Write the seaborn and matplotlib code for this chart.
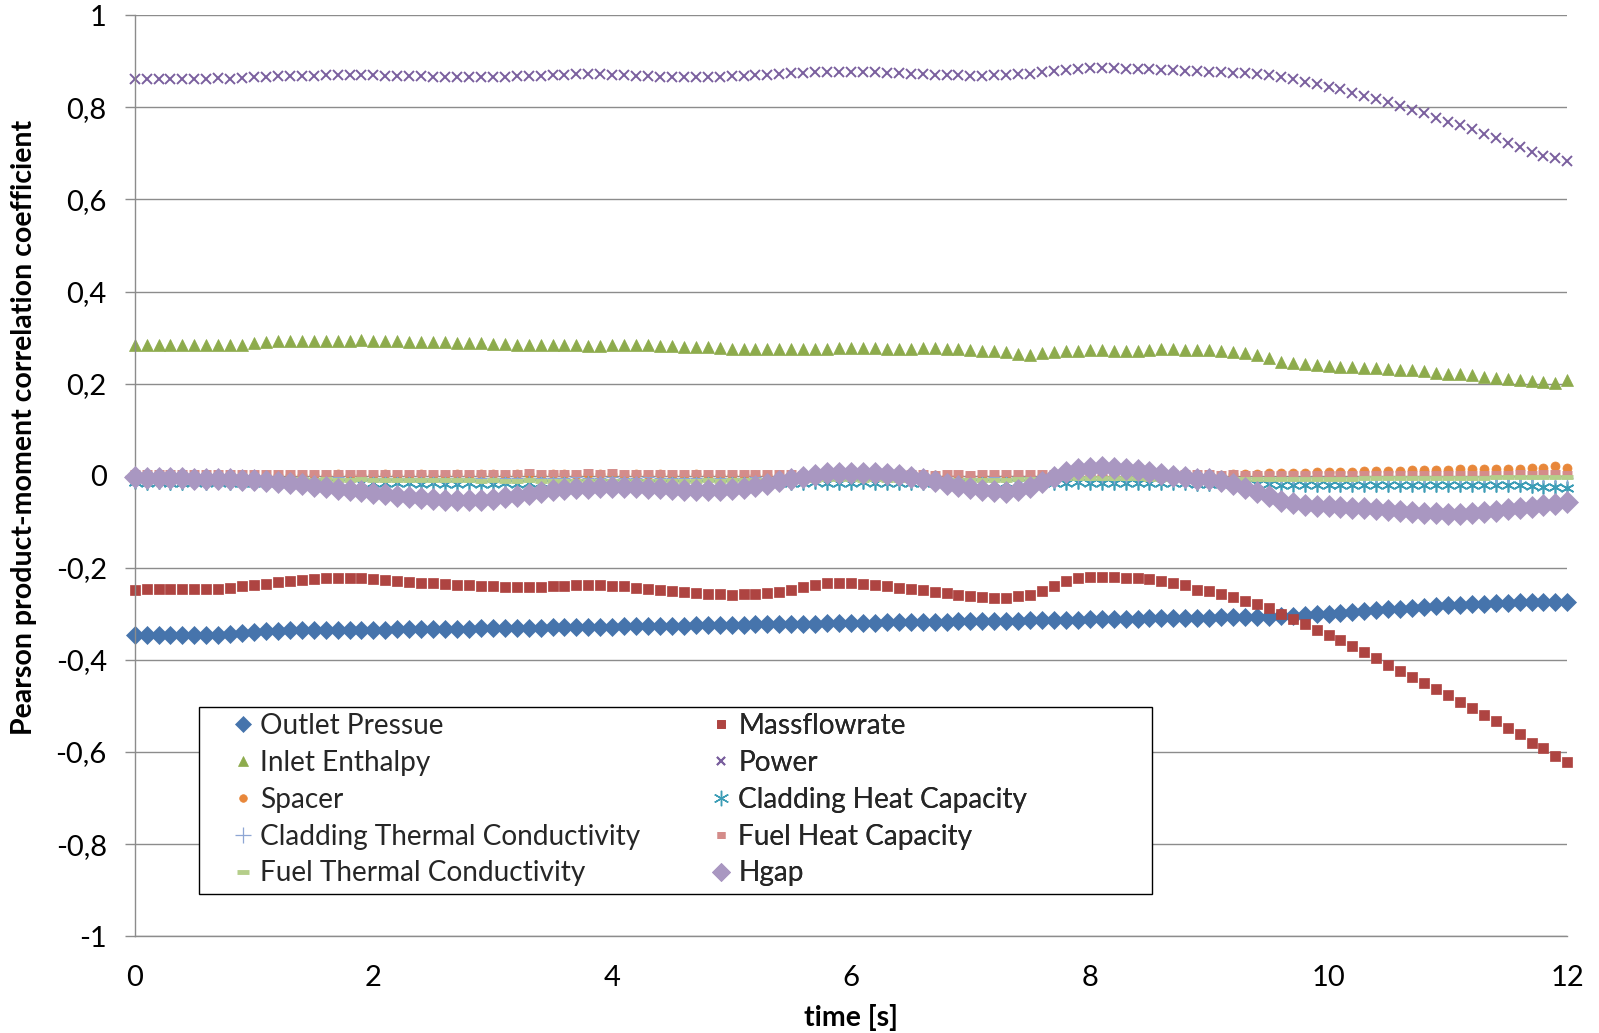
import numpy as np
import pandas as pd
import matplotlib
matplotlib.use("Agg")
import matplotlib.pyplot as plt
from matplotlib.patches import Rectangle
import seaborn as sns

# ---------------- data ----------------
time_s = [round(0.1 * i, 1) for i in range(121)]

outlet_pressure = [
    -0.346, -0.346, -0.346, -0.346, -0.346, -0.345, -0.346, -0.345, -0.343, -0.342,
    -0.340, -0.338, -0.337, -0.336, -0.336, -0.335, -0.335, -0.335, -0.335, -0.334,
    -0.334, -0.334, -0.333, -0.333, -0.333, -0.333, -0.332, -0.332, -0.332, -0.331,
    -0.331, -0.331, -0.330, -0.330, -0.330, -0.329, -0.329, -0.329, -0.328, -0.328,
    -0.328, -0.327, -0.327, -0.327, -0.326, -0.326, -0.326, -0.325, -0.325, -0.324,
    -0.324, -0.324, -0.323, -0.323, -0.322, -0.322, -0.321, -0.321, -0.320, -0.320,
    -0.319, -0.319, -0.319, -0.318, -0.318, -0.318, -0.317, -0.317, -0.317, -0.316,
    -0.316, -0.316, -0.315, -0.315, -0.315, -0.314, -0.314, -0.313, -0.313, -0.313,
    -0.312, -0.312, -0.312, -0.311, -0.311, -0.310, -0.310, -0.309, -0.309, -0.308,
    -0.308, -0.307, -0.307, -0.306, -0.306, -0.306, -0.305, -0.304, -0.303, -0.301,
    -0.300, -0.298, -0.296, -0.294, -0.292, -0.290, -0.289, -0.287, -0.285, -0.283,
    -0.281, -0.280, -0.279, -0.278, -0.277, -0.276, -0.275, -0.275, -0.275, -0.275,
    -0.275]

massflowrate = [
    -0.248, -0.247, -0.247, -0.246, -0.246, -0.246, -0.246, -0.245, -0.243, -0.240,
    -0.238, -0.235, -0.231, -0.228, -0.227, -0.225, -0.222, -0.223, -0.223, -0.223,
    -0.224, -0.226, -0.228, -0.230, -0.232, -0.234, -0.236, -0.237, -0.238, -0.239,
    -0.240, -0.241, -0.241, -0.241, -0.241, -0.240, -0.239, -0.238, -0.238, -0.238,
    -0.239, -0.240, -0.243, -0.246, -0.248, -0.250, -0.252, -0.254, -0.256, -0.257,
    -0.258, -0.257, -0.256, -0.255, -0.252, -0.248, -0.242, -0.237, -0.234, -0.234,
    -0.234, -0.235, -0.237, -0.240, -0.243, -0.246, -0.249, -0.252, -0.255, -0.258,
    -0.262, -0.264, -0.266, -0.265, -0.262, -0.258, -0.250, -0.240, -0.228, -0.221,
    -0.220, -0.220, -0.220, -0.221, -0.222, -0.225, -0.229, -0.234, -0.237, -0.248,
    -0.250, -0.256, -0.264, -0.271, -0.279, -0.288, -0.300, -0.312, -0.323, -0.334,
    -0.345, -0.357, -0.369, -0.382, -0.396, -0.410, -0.424, -0.437, -0.450, -0.463,
    -0.477, -0.491, -0.505, -0.520, -0.533, -0.547, -0.560, -0.580, -0.592, -0.608,
    -0.622]

inlet_enthalpy = [
    0.284, 0.284, 0.285, 0.284, 0.285, 0.285, 0.284, 0.285, 0.285, 0.285,
    0.289, 0.290, 0.292, 0.292, 0.293, 0.293, 0.293, 0.293, 0.293, 0.294,
    0.293, 0.293, 0.292, 0.291, 0.291, 0.290, 0.290, 0.289, 0.288, 0.288,
    0.287, 0.286, 0.285, 0.285, 0.284, 0.284, 0.283, 0.283, 0.282, 0.282,
    0.283, 0.284, 0.284, 0.283, 0.282, 0.281, 0.280, 0.279, 0.279, 0.278,
    0.276, 0.275, 0.275, 0.275, 0.275, 0.275, 0.275, 0.276, 0.276, 0.277,
    0.277, 0.277, 0.277, 0.276, 0.276, 0.276, 0.277, 0.277, 0.276, 0.275,
    0.273, 0.272, 0.270, 0.268, 0.265, 0.263, 0.266, 0.268, 0.270, 0.272,
    0.273, 0.273, 0.272, 0.272, 0.272, 0.274, 0.275, 0.275, 0.274, 0.273,
    0.273, 0.271, 0.269, 0.266, 0.262, 0.255, 0.248, 0.245, 0.243, 0.240,
    0.238, 0.237, 0.236, 0.235, 0.233, 0.232, 0.230, 0.229, 0.227, 0.224,
    0.222, 0.220, 0.218, 0.215, 0.213, 0.210, 0.207, 0.205, 0.203, 0.202,
    0.207]

power = [
    0.862, 0.862, 0.862, 0.861, 0.861, 0.862, 0.862, 0.863, 0.862, 0.863,
    0.866, 0.867, 0.868, 0.868, 0.869, 0.869, 0.870, 0.870, 0.871, 0.871,
    0.870, 0.869, 0.869, 0.868, 0.868, 0.867, 0.867, 0.866, 0.866, 0.866,
    0.866, 0.867, 0.868, 0.868, 0.869, 0.870, 0.871, 0.872, 0.872, 0.873,
    0.871, 0.870, 0.869, 0.868, 0.867, 0.867, 0.867, 0.866, 0.866, 0.867,
    0.868, 0.869, 0.870, 0.871, 0.873, 0.874, 0.875, 0.876, 0.877, 0.877,
    0.877, 0.876, 0.876, 0.875, 0.874, 0.873, 0.872, 0.871, 0.870, 0.870,
    0.869, 0.869, 0.870, 0.871, 0.872, 0.873, 0.876, 0.879, 0.882, 0.884,
    0.885, 0.885, 0.885, 0.884, 0.884, 0.883, 0.882, 0.881, 0.880, 0.879,
    0.876, 0.876, 0.875, 0.874, 0.872, 0.870, 0.866, 0.861, 0.856, 0.851,
    0.845, 0.839, 0.832, 0.825, 0.818, 0.811, 0.803, 0.795, 0.787, 0.778,
    0.769, 0.761, 0.752, 0.742, 0.733, 0.723, 0.714, 0.704, 0.695, 0.690,
    0.684]

spacer = [
    0.001, 0.002, 0.001, 0.002, 0.002, 0.001, 0.002, 0.002, 0.001, 0.002,
    0.002, 0.001, 0.002, 0.002, 0.001, 0.002, 0.002, 0.003, 0.002, 0.002,
    0.002, 0.003, 0.002, 0.002, 0.003, 0.002, 0.002, 0.003, 0.002, 0.003,
    0.003, 0.002, 0.003, 0.003, 0.002, 0.003, 0.003, 0.002, 0.003, 0.003,
    0.003, 0.002, 0.003, 0.002, 0.003, 0.002, 0.002, 0.003, 0.002, 0.002,
    0.002, 0.001, 0.002, 0.001, 0.002, 0.001, 0.001, 0.002, 0.001, 0.001,
    0.001, 0.000, 0.001, 0.000, 0.001, 0.000, 0.000, 0.001, 0.000, 0.000,
    0.000, -0.001, 0.000, -0.001, 0.000, 0.000, 0.001, 0.000, 0.001, 0.000,
    0.001, 0.000, 0.001, 0.001, 0.000, 0.001, 0.001, 0.002, 0.001, 0.002,
    0.002, 0.002, 0.003, 0.003, 0.004, 0.005, 0.006, 0.007, 0.007, 0.008,
    0.008, 0.009, 0.009, 0.010, 0.010, 0.011, 0.011, 0.012, 0.012, 0.013,
    0.013, 0.014, 0.014, 0.014, 0.015, 0.015, 0.015, 0.016, 0.016, 0.022,
    0.016]

cladding_heat_capacity = [
    -0.014, -0.015, -0.014, -0.015, -0.015, -0.014, -0.015, -0.014, -0.015, -0.015,
    -0.015, -0.014, -0.015, -0.015, -0.014, -0.015, -0.015, -0.016, -0.015, -0.016,
    -0.016, -0.015, -0.016, -0.016, -0.017, -0.016, -0.017, -0.017, -0.016, -0.017,
    -0.017, -0.016, -0.017, -0.016, -0.016, -0.017, -0.016, -0.016, -0.015, -0.016,
    -0.016, -0.015, -0.016, -0.016, -0.017, -0.016, -0.017, -0.017, -0.016, -0.017,
    -0.016, -0.016, -0.015, -0.015, -0.016, -0.015, -0.015, -0.014, -0.015, -0.015,
    -0.015, -0.014, -0.015, -0.015, -0.016, -0.015, -0.016, -0.016, -0.015, -0.016,
    -0.016, -0.015, -0.016, -0.016, -0.015, -0.015, -0.014, -0.015, -0.015, -0.014,
    -0.015, -0.015, -0.016, -0.015, -0.016, -0.016, -0.015, -0.016, -0.016, -0.017,
    -0.017, -0.017, -0.018, -0.018, -0.019, -0.019, -0.020, -0.020, -0.020, -0.021,
    -0.020, -0.021, -0.021, -0.020, -0.021, -0.021, -0.020, -0.021, -0.021, -0.020,
    -0.021, -0.021, -0.020, -0.021, -0.021, -0.020, -0.021, -0.022, -0.024, -0.025,
    -0.027]

cladding_thermal_conductivity = [
    -0.004, -0.003, -0.004, -0.003, -0.004, -0.004, -0.003, -0.004, -0.003, -0.004,
    -0.004, -0.003, -0.004, -0.004, -0.003, -0.004, -0.004, -0.003, -0.004, -0.004,
    -0.005, -0.004, -0.005, -0.005, -0.004, -0.005, -0.005, -0.004, -0.005, -0.005,
    -0.004, -0.005, -0.004, -0.004, -0.005, -0.004, -0.004, -0.003, -0.004, -0.004,
    -0.003, -0.004, -0.004, -0.003, -0.004, -0.004, -0.005, -0.004, -0.004, -0.005,
    -0.004, -0.004, -0.003, -0.004, -0.003, -0.003, -0.004, -0.003, -0.003, -0.004,
    -0.003, -0.004, -0.004, -0.003, -0.004, -0.004, -0.005, -0.004, -0.004, -0.005,
    -0.004, -0.004, -0.003, -0.004, -0.003, -0.003, -0.002, -0.003, -0.003, -0.002,
    -0.003, -0.003, -0.004, -0.003, -0.004, -0.004, -0.003, -0.004, -0.004, -0.005,
    -0.004, -0.005, -0.005, -0.004, -0.005, -0.005, -0.004, -0.004, -0.003, -0.004,
    -0.003, -0.003, -0.004, -0.003, -0.003, -0.004, -0.003, -0.003, -0.004, -0.003,
    -0.003, -0.004, -0.003, -0.003, -0.004, -0.003, -0.003, -0.004, -0.003, -0.003,
    -0.004]

fuel_heat_capacity = [
    0.005, 0.006, 0.005, 0.006, 0.006, 0.005, 0.006, 0.005, 0.006, 0.006,
    0.005, 0.006, 0.006, 0.005, 0.006, 0.006, 0.005, 0.006, 0.006, 0.005,
    0.006, 0.006, 0.005, 0.006, 0.005, 0.006, 0.006, 0.005, 0.006, 0.006,
    0.007, 0.006, 0.007, 0.008, 0.007, 0.006, 0.007, 0.007, 0.008, 0.007,
    0.008, 0.007, 0.006, 0.007, 0.006, 0.006, 0.005, 0.006, 0.006, 0.005,
    0.006, 0.005, 0.006, 0.006, 0.005, 0.005, 0.004, 0.005, 0.005, 0.004,
    0.005, 0.005, 0.004, 0.005, 0.004, 0.005, 0.005, 0.004, 0.005, 0.005,
    0.004, 0.005, 0.005, 0.006, 0.005, 0.006, 0.006, 0.005, 0.006, 0.006,
    0.007, 0.006, 0.006, 0.005, 0.006, 0.006, 0.005, 0.006, 0.006, 0.005,
    0.005, 0.004, 0.005, 0.004, 0.004, 0.003, 0.004, 0.004, 0.003, 0.004,
    0.004, 0.003, 0.004, 0.004, 0.003, 0.004, 0.004, 0.003, 0.004, 0.004,
    0.003, 0.004, 0.004, 0.003, 0.004, 0.004, 0.005, 0.004, 0.005, 0.005,
    0.004]

fuel_thermal_conductivity = [
    -0.007, -0.007, -0.008, -0.007, -0.008, -0.008, -0.007, -0.008, -0.008, -0.007,
    -0.008, -0.008, -0.007, -0.008, -0.008, -0.009, -0.008, -0.009, -0.009, -0.008,
    -0.009, -0.009, -0.010, -0.009, -0.010, -0.010, -0.009, -0.010, -0.010, -0.011,
    -0.010, -0.011, -0.011, -0.010, -0.011, -0.011, -0.012, -0.011, -0.012, -0.012,
    -0.011, -0.012, -0.012, -0.011, -0.012, -0.012, -0.011, -0.011, -0.010, -0.011,
    -0.010, -0.010, -0.009, -0.010, -0.009, -0.009, -0.008, -0.009, -0.008, -0.008,
    -0.008, -0.009, -0.008, -0.009, -0.009, -0.010, -0.009, -0.010, -0.010, -0.009,
    -0.010, -0.010, -0.009, -0.009, -0.008, -0.007, -0.006, -0.005, -0.005, -0.004,
    -0.004, -0.004, -0.005, -0.005, -0.005, -0.006, -0.006, -0.006, -0.007, -0.007,
    -0.007, -0.007, -0.008, -0.008, -0.008, -0.008, -0.007, -0.007, -0.007, -0.006,
    -0.006, -0.006, -0.006, -0.005, -0.005, -0.005, -0.005, -0.005, -0.004, -0.004,
    -0.004, -0.004, -0.004, -0.004, -0.003, -0.003, -0.003, -0.003, -0.003, -0.003,
    -0.003]

hgap = [
    -0.003, -0.004, -0.004, -0.005, -0.005, -0.006, -0.006, -0.007, -0.008, -0.009,
    -0.010, -0.012, -0.014, -0.016, -0.019, -0.022, -0.025, -0.028, -0.031, -0.034,
    -0.037, -0.040, -0.043, -0.046, -0.048, -0.050, -0.052, -0.053, -0.053, -0.052,
    -0.050, -0.047, -0.044, -0.040, -0.036, -0.032, -0.029, -0.027, -0.026, -0.025,
    -0.025, -0.025, -0.025, -0.026, -0.027, -0.028, -0.030, -0.031, -0.032, -0.031,
    -0.029, -0.026, -0.022, -0.017, -0.012, -0.007, -0.002, 0.002, 0.005, 0.006,
    0.007, 0.007, 0.006, 0.004, 0.001, -0.003, -0.007, -0.012, -0.017, -0.022,
    -0.027, -0.031, -0.034, -0.035, -0.032, -0.025, -0.014, -0.002, 0.008, 0.014,
    0.017, 0.018, 0.017, 0.015, 0.012, 0.008, 0.004, 0.000, -0.003, -0.006,
    -0.008, -0.012, -0.018, -0.026, -0.035, -0.045, -0.054, -0.060, -0.063, -0.065,
    -0.066, -0.067, -0.069, -0.071, -0.073, -0.075, -0.077, -0.079, -0.080, -0.081,
    -0.082, -0.082, -0.081, -0.079, -0.076, -0.073, -0.070, -0.067, -0.064, -0.061,
    -0.057]

series_names = ["Outlet Pressue", "Massflowrate", "Inlet Enthalpy", "Power",
                "Spacer", "Cladding Heat Capacity", "Cladding Thermal Conductivity",
                "Fuel Heat Capacity", "Fuel Thermal Conductivity", "Hgap"]
series_values = [outlet_pressure, massflowrate, inlet_enthalpy, power, spacer,
                 cladding_heat_capacity, cladding_thermal_conductivity,
                 fuel_heat_capacity, fuel_thermal_conductivity, hgap]

yticks = [-1, -0.8, -0.6, -0.4, -0.2, 0, 0.2, 0.4, 0.6, 0.8, 1]
ytick_labels = ["-1", "-0,8", "-0,6", "-0,4", "-0,2", "0", "0,2", "0,4", "0,6", "0,8", "1"]
xticks = [0, 2, 4, 6, 8, 10, 12]
xtick_labels = ["0", "2", "4", "6", "8", "10", "12"]

# ---------------- styles ----------------
styles = {
    "Outlet Pressue": dict(marker="D", color="#4674AC", ms=9.5, mew=0.5, lms=8.0),
    "Massflowrate": dict(marker="s", color="#AE4441", ms=7.5, mew=0.5, lms=6.0),
    "Inlet Enthalpy": dict(marker="^", color="#8DAB4C", ms=8.5, mew=0.5, lms=6.5),
    "Power": dict(marker="x", color="#7A5F9E", ms=6.5, mew=1.4, lms=5.5),
    "Spacer": dict(marker="o", color="#E8873A", ms=6.5, mew=0.5, lms=5.5),
    "Cladding Heat Capacity": dict(marker=(6, 2, 0), color="#3C9DB6", ms=10.0, mew=1.2, lms=11.0),
    "Cladding Thermal Conductivity": dict(marker="+", color="#8EA6D4", ms=8.5, mew=1.0, lms=11.0),
    "Fuel Heat Capacity": dict(marker="_", color="#D48C8A", ms=7.5, mew=5.0, lms=6.0),
    "Fuel Thermal Conductivity": dict(marker="_", color="#B5CE8A", ms=9.0, mew=3.5, lms=9.0),
    "Hgap": dict(marker="D", color="#A997C1", ms=11.5, mew=0.5, lms=9.0),
}

sns.set_theme(style="white")
plt.rcParams["font.family"] = ["Lato", "DejaVu Sans"]

fig, ax = plt.subplots(figsize=(15.99, 10.33), dpi=100)
fig.subplots_adjust(left=0.0842, right=0.9802, top=0.9852, bottom=0.0937)

for i, (name, vals) in enumerate(zip(series_names, series_values)):
    st = styles[name]
    df = pd.DataFrame({"t": time_s, "r": vals})
    sns.lineplot(data=df, x="t", y="r", ax=ax, marker=st["marker"], linestyle="",
                 markersize=st["ms"], color=st["color"], markeredgecolor=st["color"],
                 markerfacecolor=st["color"], markeredgewidth=st["mew"],
                 label=name, clip_on=False, zorder=2 + i * 0.1)

ax.set_xlim(0, 12)
ax.set_ylim(-1, 1)
ax.set_yticks(yticks)
ax.set_yticklabels(ytick_labels)
ax.set_xticks(xticks)
ax.set_xticklabels(xtick_labels)

grid_col = "#8C8C8C"
ax.set_axisbelow(True)
ax.yaxis.grid(True, color=grid_col, linewidth=1.0)
ax.xaxis.grid(False)
for side in ["top", "right"]:
    ax.spines[side].set_visible(False)
for side in ["left", "bottom"]:
    ax.spines[side].set_color(grid_col)
    ax.spines[side].set_linewidth(1.0)

ax.tick_params(axis="y", which="major", left=True, length=7, width=1.0,
               color=grid_col, pad=13, labelsize=21, labelcolor="black")
ax.tick_params(axis="x", which="major", bottom=False, length=0, pad=21,
               labelsize=21, labelcolor="black")

ax.set_xlabel("time [s]", fontsize=20.5, fontweight="bold", color="black")
ax.set_ylabel("Pearson product-moment correlation coefficient", fontsize=20.5,
              fontweight="bold", color="black")
ax.xaxis.set_label_coords(0.5003, -0.074)
ax.yaxis.set_label_coords(-0.068, 0.552)

# legend frame (box behind the two legend columns)
frame = Rectangle((0.0449, 0.0454), 0.6655, 0.2038, transform=ax.transAxes,
                  facecolor="white", edgecolor="black", linewidth=1.0, zorder=4)
ax.add_patch(frame)

handles, labels = ax.get_legend_handles_labels()
hmap = dict(zip(labels, handles))
col1 = ["Outlet Pressue", "Inlet Enthalpy", "Spacer",
        "Cladding Thermal Conductivity", "Fuel Thermal Conductivity"]
col2 = ["Massflowrate", "Power", "Cladding Heat Capacity",
        "Fuel Heat Capacity", "Hgap"]

leg_kw = dict(loc="upper left", frameon=False, fontsize=20.2, borderpad=0,
              borderaxespad=0, handlelength=0.8, handletextpad=0.22,
              labelspacing=0.385, markerscale=1.0)
legs = []
for col, xa in [(col1, 0.0677), (col2, 0.4014)]:
    leg = ax.legend([hmap[n] for n in col], col, bbox_to_anchor=(xa, 0.2422), **leg_kw)
    leg.set_zorder(5)
    for h, n in zip(leg.legend_handles, col):
        h.set_markersize(styles[n]["lms"])
        if n in ("Cladding Heat Capacity", "Cladding Thermal Conductivity"):
            h.set_markeredgewidth(0.9)
    legs.append(leg)
    ax.add_artist(leg)

fig.savefig("out.png", dpi=100)
